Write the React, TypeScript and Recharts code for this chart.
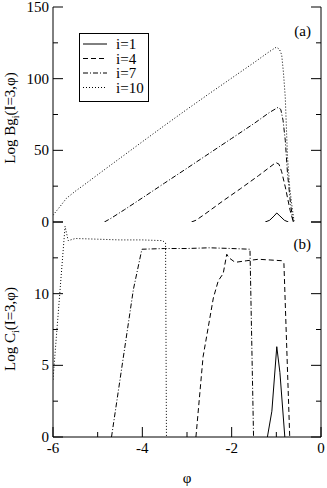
import { LineChart, Line, XAxis, YAxis, Legend } from "recharts";

const FONT = '"Liberation Serif", "Times New Roman", serif';

const phiTicks = [-6, -5, -4, -3, -2, -1, 0];
const phiLabels = [-6, -4, -2, 0];
const bgTicks = [0, 25, 50, 75, 100, 125, 150];
const bgLabels = [0, 50, 100, 150];
const cTicks = [0, 2.5, 5, 7.5, 10, 12.5, 15];
const cLabels = [0, 5, 10];
const seriesNames = ["i=1", "i=4", "i=7", "i=10"];

// panel (a): Log Bg_i(I=3,phi) as [phi, value]
const bg1 = [[-1.25, 0], [-1.15, 1.2], [-1.05, 4.2], [-0.99, 6.3], [-0.92, 4.2], [-0.82, 1.2], [-0.73, 0]];
const bg4 = [[-2.9, 0], [-2.8, 1.2], [-2.6, 5.5], [-2.2, 14.6], [-1.8, 23.3], [-1.4, 32.3], [-1.15, 38.2], [-1.01, 41.5], [-0.94, 40.3], [-0.88, 35], [-0.8, 24.5], [-0.69, 8], [-0.62, 0]];
const bg7 = [[-4.85, 0], [-4.7, 2.6], [-4.4, 8.6], [-4, 16.8], [-3.5, 27.2], [-3, 37.5], [-2.5, 47.9], [-2, 58.3], [-1.5, 68.7], [-1.15, 76.5], [-0.96, 80], [-0.9, 78.5], [-0.85, 71], [-0.8, 57], [-0.75, 34], [-0.68, 12], [-0.62, 0]];
const bg10 = [[-6, 4.7], [-5.85, 10.5], [-5.7, 16.5], [-5.5, 21.5], [-5.3, 26], [-5, 33], [-4.5, 44.5], [-4, 56], [-3.5, 67.4], [-3, 78.6], [-2.5, 89.6], [-2, 100.4], [-1.5, 111.2], [-1.15, 119], [-1, 122], [-0.93, 120.5], [-0.88, 116.6], [-0.84, 104], [-0.8, 87], [-0.75, 45.5], [-0.7, 24], [-0.65, 11], [-0.6, 0]];

// panel (b): Log C_i(I=3,phi)
const c1 = [[-1.2, 0], [-1.1, 1.8], [-0.99, 6.3], [-0.92, 4.5], [-0.81, 0]];
const c4 = [[-2.8, 0], [-2.64, 5.6], [-2.41, 9.7], [-2.3, 10.9], [-2.19, 11.4], [-2.11, 12.75], [-2.06, 12.5], [-1.95, 12.25], [-1.89, 12.2], [-1.66, 12.3], [-1.4, 12.4], [-1.14, 12.35], [-0.88, 12.3], [-0.83, 12.1], [-0.7, 0]];
const c7 = [[-4.69, 0], [-4.2, 10.3], [-4.01, 13.1], [-3.5, 13.15], [-3, 13.15], [-2.5, 13.2], [-2, 13.15], [-1.59, 13.1], [-1.51, 0]];
const c10 = [[-6, 4], [-5.73, 14.7], [-5.66, 13.7], [-5.5, 13.85], [-5, 13.8], [-4.5, 13.75], [-4, 13.75], [-3.55, 13.7], [-3.48, 13.55], [-3.46, 0]];

const dashes = ["", "5 3", "5 2 1 2", "1 2"];
const toRows = (pts: number[][]) => pts.map(([phi, v]) => ({ phi, v }));

const makeTick =
  (side: "left" | "right" | "top" | "bottom", majorStep: number, labels: number[]) =>
  (props: any) => {
    const { x, y, payload } = props;
    const v = payload.value;
    const len = Math.abs(v % majorStep) < 1e-9 ? 10 : 5;
    const showLabel = labels.includes(v);
    let line;
    if (side === "left") line = <line x1={x} x2={x + len} y1={y} y2={y} stroke="#000" />;
    else if (side === "right") line = <line x1={x} x2={x - len} y1={y} y2={y} stroke="#000" />;
    else if (side === "top") line = <line x1={x} x2={x} y1={y} y2={y + len} stroke="#000" />;
    else line = <line x1={x} x2={x} y1={y} y2={y - len} stroke="#000" />;
    return (
      <g>
        {line}
        {showLabel && side === "left" && (
          <text x={x - 4} y={y + 5} textAnchor="end" fontSize={15} fontFamily={FONT} fill="#000">
            {String(v)}
          </text>
        )}
        {showLabel && side === "bottom" && (
          <text x={x} y={y + 16} textAnchor="middle" fontSize={15} fontFamily={FONT} fill="#000">
            {String(v)}
          </text>
        )}
      </g>
    );
  };

const renderLegend = (props: any) => {
  const items = [...(props.payload ?? [])].sort(
    (a: any, b: any) => seriesNames.indexOf(a.value) - seriesNames.indexOf(b.value)
  );
  return (
    <svg width={71} height={70} style={{ display: "block" }}>
      <rect x={0.5} y={0.5} width={69} height={68} fill="#fff" stroke="#000" />
      {items.map((it: any, i: number) => {
        const y = 11 + i * 14.5;
        const idx = seriesNames.indexOf(it.value);
        return (
          <g key={it.value}>
            <line x1={4} x2={28} y1={y} y2={y} stroke="#000" strokeDasharray={dashes[idx] || undefined} />
            <text x={37} y={y + 5} fontSize={15} fontFamily={FONT} fill="#000">
              {it.value}
            </text>
          </g>
        );
      })}
    </svg>
  );
};

const axisLine = { stroke: "#000" };

const Axes = ({ yTicks, yDomain, yMajor, yLabels, xLabels, bottomHeight }: any) => [
  <XAxis
    key="xb"
    xAxisId="b"
    dataKey="phi"
    type="number"
    domain={[-6, 0]}
    ticks={phiTicks}
    interval={0}
    allowDataOverflow
    height={bottomHeight}
    axisLine={axisLine}
    tickLine={false}
    tickSize={0}
    tickMargin={0}
    tick={makeTick("bottom", 2, xLabels)}
  />,
  <XAxis
    key="xt"
    xAxisId="t"
    orientation="top"
    dataKey="phi"
    type="number"
    domain={[-6, 0]}
    ticks={phiTicks}
    interval={0}
    allowDataOverflow
    height={0}
    axisLine={axisLine}
    tickLine={false}
    tickSize={0}
    tickMargin={0}
    tick={makeTick("top", 2, [])}
  />,
  <YAxis
    key="yl"
    yAxisId="l"
    type="number"
    domain={yDomain}
    ticks={yTicks}
    interval={0}
    allowDataOverflow
    width={53}
    axisLine={axisLine}
    tickLine={false}
    tickSize={0}
    tickMargin={0}
    tick={makeTick("left", yMajor, yLabels)}
  />,
  <YAxis
    key="yr"
    yAxisId="r"
    orientation="right"
    type="number"
    domain={yDomain}
    ticks={yTicks}
    interval={0}
    allowDataOverflow
    width={6}
    axisLine={axisLine}
    tickLine={false}
    tickSize={0}
    tickMargin={0}
    tick={makeTick("right", yMajor, [])}
  />,
];

const seriesLines = (sets: number[][][]) =>
  sets.map((pts, i) => (
    <Line
      key={seriesNames[i]}
      data={toRows(pts)}
      dataKey="v"
      name={seriesNames[i]}
      xAxisId="b"
      yAxisId="l"
      type="linear"
      stroke="#000"
      strokeWidth={1}
      strokeDasharray={dashes[i] || undefined}
      dot={false}
      activeDot={false}
      isAnimationActive={false}
    />
  ));

export default function App() {
  return (
    <div style={{ position: "absolute", left: 0, top: 0, width: 327, height: 488, background: "#fff" }}>
      <div style={{ position: "absolute", left: 0, top: 221 }}>
        <LineChart width={327} height={267} margin={{ top: 1, right: 0, bottom: 0, left: 0 }}>
          {Axes({ yTicks: cTicks, yDomain: [0, 15], yMajor: 5, yLabels: cLabels, xLabels: phiLabels, bottomHeight: 51 })}
          {seriesLines([c1, c4, c7, c10])}
          <text x={311} y={28} textAnchor="end" fontSize={15} fontFamily={FONT} fill="#000">
            (b)
          </text>
          <text transform="translate(15,108) rotate(-90)" textAnchor="middle" fontSize={15} fontFamily={FONT} fill="#000">
            Log C
            <tspan dy={4} fontSize={10}>i</tspan>
            <tspan dy={-4}>(I=3,φ)</tspan>
          </text>
          <text x={187} y={262} textAnchor="middle" fontSize={15} fontFamily={FONT} fill="#000">
            φ
          </text>
        </LineChart>
      </div>
      <div style={{ position: "absolute", left: 0, top: 0 }}>
        <LineChart width={327} height={232} margin={{ top: 7, right: 0, bottom: 10, left: 0 }}>
          {Axes({ yTicks: bgTicks, yDomain: [0, 150], yMajor: 50, yLabels: bgLabels, xLabels: [], bottomHeight: 0 })}
          {seriesLines([bg1, bg4, bg7, bg10])}
          <Legend
            layout="horizontal"
            verticalAlign="middle"
            align="center"
            content={renderLegend}
            wrapperStyle={{ left: 79, top: 33, width: 71, height: 70 }}
          />
          <text x={311} y={36} textAnchor="end" fontSize={15} fontFamily={FONT} fill="#000">
            (a)
          </text>
          <text transform="translate(15,118) rotate(-90)" textAnchor="middle" fontSize={15} fontFamily={FONT} fill="#000">
            Log Bg
            <tspan dy={4} fontSize={10}>i</tspan>
            <tspan dy={-4}>(I=3,φ)</tspan>
          </text>
        </LineChart>
      </div>
    </div>
  );
}
